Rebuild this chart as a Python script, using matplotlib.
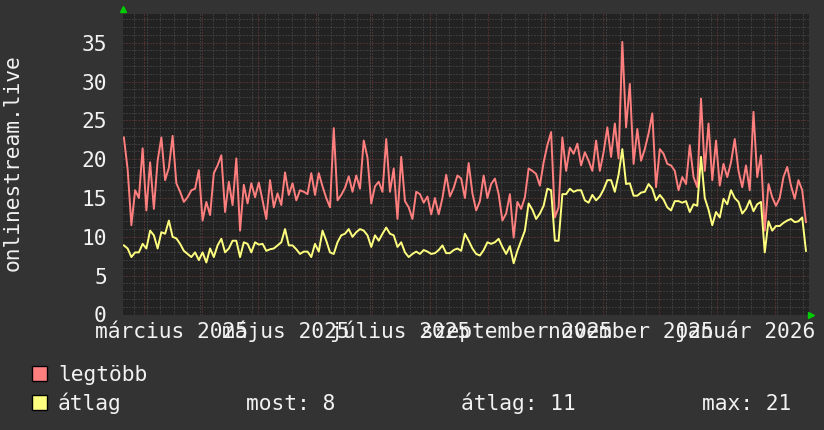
import numpy as np
import pandas as pd
import matplotlib
matplotlib.use('Agg')
import matplotlib.pyplot as plt
import matplotlib.dates as mdates
import matplotlib.transforms as mtransforms
from matplotlib.patches import Rectangle

# daily stream viewer counts, one value every 2 days
start = pd.Timestamp('2025-02-18 12:00')

legtobb = [22.8, 18.7, 11.5, 16, 15, 21.4, 13.4, 19.6, 13.6, 19.8,
           22.8, 17.3, 18.9, 23, 16.9, 15.8, 14.5, 15.1, 16, 16.2,
           18.6, 12.1, 14.5, 12.8, 18.2, 19.2, 20.5, 13.2, 17.1, 14.1,
           20.1, 10.8, 16.7, 14.3, 16.9, 15.1, 17, 14.7, 12.3, 17.3,
           13.8, 15.6, 14.1, 18.3, 15.4, 16.9, 14.7, 16, 15.8, 15.5,
           18.2, 15.4, 18.2, 16.5, 15, 13.8, 24, 14.7, 15.4, 16.3,
           17.8, 15.8, 17.9, 16.2, 22.4, 20.2, 14.3, 16.5, 17.1, 15.8,
           22.6, 15.8, 18.8, 12.3, 20.3, 14.6, 13.8, 12.3, 15.8, 15.5,
           14.4, 15.2, 12.9, 15, 12.9, 15, 18, 15.2, 16.3, 17.9,
           17.5, 15, 19.5, 15.6, 13.4, 14.6, 17.9, 15, 16.8, 17.5,
           15.5, 12.1, 13, 15.5, 9.9, 14.5, 13.6, 15.1, 18.8, 18.5,
           18.1, 16.6, 19.6, 21.8, 23.5, 12.5, 13.8, 22.8, 18.5, 21.5,
           20.7, 22, 19.2, 20.9, 19.8, 18.5, 22.4, 18.5, 20.9, 24.1,
           20.3, 24.6, 20.1, 35.1, 24.1, 29.7, 19.4, 23.9, 19.8, 21.3,
           23.3, 25.9, 16.4, 21.3, 20.7, 19.4, 19.2, 18.5, 16, 17.7,
           16.8, 21.8, 17.7, 16.4, 27.8, 18.5, 24.6, 17.3, 22.4, 16.6,
           19.4, 17.7, 19.6, 22.6, 18.5, 16.4, 19.2, 16, 26.1, 17.7,
           20.5, 10.8, 16.8, 15.1, 14, 15, 17.7, 19, 16.6, 14.9,
           17.3, 16, 11.9]

atlag = [8.9, 8.5, 7.4, 8, 8, 9.1, 8.5, 10.8, 10.2, 8.5,
         10.6, 10.4, 12.1, 10, 9.8, 9.1, 8.2, 7.8, 7.4, 8,
         7, 8, 6.7, 8.5, 7.4, 8.9, 9.75, 8, 8.5, 9.5,
         9.5, 7.4, 9.3, 9.1, 8, 9.3, 9, 9.1, 8.2, 8.4,
         8.5, 8.9, 9.3, 11, 8.9, 8.9, 8.4, 7.8, 8.1, 8.1,
         7.4, 9.1, 8.1, 10.8, 9.5, 8, 7.8, 9.3, 10.2, 10.4,
         11, 10, 10.6, 11, 10.8, 10.2, 8.7, 10.2, 9.5, 10.4,
         11.2, 10.4, 10.2, 8.7, 9.3, 8, 7.4, 7.8, 8.1, 7.8,
         8.3, 8.1, 7.8, 7.9, 8.3, 8.9, 7.9, 7.9, 8.3, 8.5,
         8.2, 10.4, 9.5, 8.5, 7.8, 7.6, 8.3, 9.3, 9.1, 9.3,
         9.75, 8.7, 7.8, 8.8, 6.6, 8.2, 9.5, 10.8, 14.3, 13.5,
         12.3, 13, 14, 16.2, 16, 9.5, 9.5, 15.5, 15.5, 16.2,
         15.8, 16, 16, 14.7, 14.4, 15.4, 14.7, 15.2, 16.1, 17.3,
         17.3, 15.8, 18, 21.3, 16.8, 16.9, 15.3, 15.3, 15.7, 15.8,
         16.8, 16.2, 14.7, 15.4, 14.8, 13.8, 13.4, 14.6, 14.6, 14.4,
         14.6, 13.2, 14.2, 14, 20.3, 15, 13.5, 11.5, 13.2, 12.5,
         14.9, 14.2, 16, 15, 14.5, 13, 13.6, 14.7, 13.3, 14.2,
         14.5, 8, 12, 10.8, 11.4, 11.4, 11.8, 12.1, 12.3, 11.9,
         12, 12.5, 8.2]

month_labels = ['március 2025', 'május 2025', 'július 2025',
                'szeptember 2025', 'november 2025', 'január 2026']
label_dates = ['2025-03-16', '2025-05-16', '2025-07-16',
               '2025-09-16', '2025-11-16', '2026-01-16']

dates = start + pd.to_timedelta(np.arange(len(legtobb)) * 2, unit='D')

bg = '#333333'
plot_bg = '#222222'
txt = '#f2f2f2'
red = '#ff7f7f'
yellow = '#ffff7f'
font = 'DejaVu Sans Mono'
fs = 15.3

plt.rcParams['font.family'] = [font]

fig = plt.figure(figsize=(8.24, 4.30), dpi=100, facecolor=bg)
ax = fig.add_axes([123.5 / 824, (430 - 314.5) / 430, 685.5 / 824, 300.5 / 430])
ax.set_facecolor(plot_bg)

ax.plot(dates, legtobb, color=red, lw=1.4, zorder=3)
ax.plot(dates, atlag, color=yellow, lw=1.4, zorder=3)

ax.set_xlim(pd.Timestamp('2025-02-18 07:00'), pd.Timestamp('2026-02-19 03:00'))
ax.set_ylim(0, 38.7)

# grid: months red, weeks gray; y every 5 red, every 1 gray
ax.xaxis.set_major_locator(mdates.MonthLocator())
ax.xaxis.set_minor_locator(mdates.WeekdayLocator(byweekday=mdates.MO))
ax.set_yticks(np.arange(0, 36, 5))
ax.set_yticks(np.arange(0, 39, 1), minor=True)
ax.grid(which='minor', color='#555555', lw=0.72, ls=(0, (1, 2)), zorder=1)
ax.grid(which='major', color='#7a3c3c', lw=0.72, ls=(0, (1, 2)), zorder=2)
ax.set_axisbelow(True)

ax.tick_params(axis='x', which='both', length=0, labelbottom=False)
ax.tick_params(axis='y', which='both', length=0, pad=12, labelcolor=txt, labelsize=fs)
for s in ax.spines.values():
    s.set_visible(False)

# month labels
trans = mtransforms.blended_transform_factory(ax.transData, ax.transAxes)
for lab, d in zip(month_labels, label_dates):
    ax.text(pd.Timestamp(d), -0.078, lab, transform=trans, ha='center',
            va='baseline', color=txt, fontsize=fs, clip_on=False)

# axis arrows
ax.plot([0.0], [1.0 + 5 / 300.5], marker='^', color='#00cc00', ms=5,
        transform=ax.transAxes, clip_on=False)
ax.plot([1.0 + 2 / 685.5], [0.0], marker='>', color='#00cc00', ms=5,
        transform=ax.transAxes, clip_on=False)

fig.text(13 / 824, (430 - 163) / 430, 'onlinestream.live', rotation=90,
         ha='center', va='center', color=txt, fontsize=fs)

# legend
for ypx, col in [(381, red), (410, yellow)]:
    fig.patches.append(Rectangle((32 / 824, (430 - ypx) / 430), 15 / 824, 15 / 430,
                                 transform=fig.transFigure, facecolor=col,
                                 edgecolor='black', lw=1))
fig.text(58 / 824, (430 - 381) / 430, 'legtöbb', color=txt, fontsize=fs, va='baseline')
fig.text(58 / 824, (430 - 410) / 430, 'átlag', color=txt, fontsize=fs, va='baseline')
fig.text(246 / 824, (430 - 410) / 430, 'most: 8', color=txt, fontsize=fs, va='baseline')
fig.text(461 / 824, (430 - 410) / 430, 'átlag: 11', color=txt, fontsize=fs, va='baseline')
fig.text(702 / 824, (430 - 410) / 430, 'max: 21', color=txt, fontsize=fs, va='baseline')

fig.savefig('out.png', dpi=100, facecolor=bg)
